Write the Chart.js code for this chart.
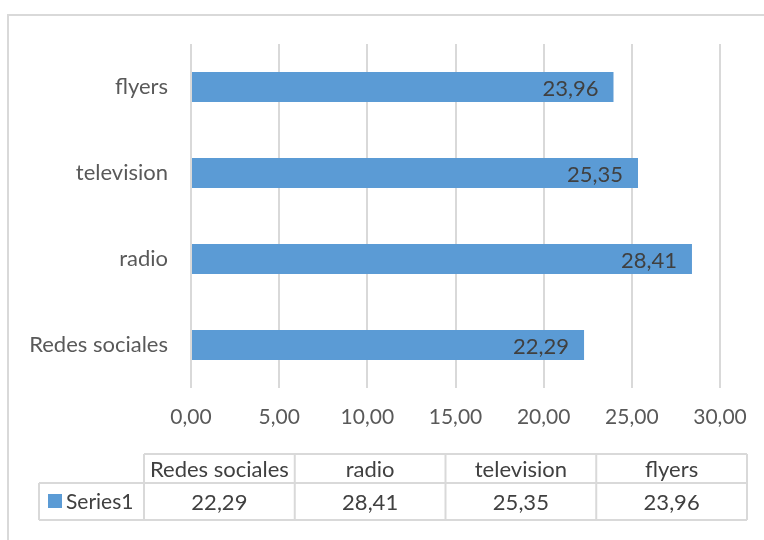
<!DOCTYPE html>
<html lang="es">
<head>
  <meta charset="UTF-8">
  <title>Series1</title>
  <script src="https://cdn.jsdelivr.net/npm/chart.js@4.4.4/dist/chart.umd.min.js"></script>
  <style>
    html, body { margin: 0; padding: 0; background: #fff; overflow: hidden; }
    #wrap { position: relative; width: 764px; height: 540px; }
    #frame { position: absolute; left: 7px; top: 14px; width: 820px; height: 620px; border: 2px solid #d9d9d9; }
    canvas { position: absolute; left: 0; top: 0; }
  </style>
</head>
<body>
  <div id="wrap">
    <div id="frame"></div>
    <canvas id="chart" width="764" height="540"></canvas>
  </div>

  <script>
    const categories = ['Redes sociales', 'radio', 'television', 'flyers'];
    const seriesName = 'Series1';
    const values = [22.29, 28.41, 25.35, 23.96];
    const axisMin = 0, axisMax = 30, axisStep = 5;

    const FONT = 'Lato, "Open Sans", sans-serif';
    const BLUE = '#5b9bd5';
    const GRID = '#d9d9d9';
    const fmt = v => v.toFixed(2).replace('.', ',');

    // value labels at the inner end of each bar
    const barLabels = {
      id: 'barLabels',
      afterDatasetsDraw(chart) {
        const ctx = chart.ctx;
        const meta = chart.getDatasetMeta(0);
        ctx.save();
        ctx.font = '22px ' + FONT;
        ctx.fillStyle = '#404040';
        ctx.textAlign = 'right';
        ctx.textBaseline = 'middle';
        meta.data.forEach((bar, i) => {
          ctx.fillText(fmt(values[i]), bar.x - 15, bar.y + 2);
        });
        ctx.restore();
      }
    };

    // data table below the axis
    const dataTable = {
      id: 'dataTable',
      afterDraw(chart) {
        const ctx = chart.ctx;
        const left = 144, right = 747, keyLeft = 39;
        const top = 454, mid = 483, bottom = 520;
        const colW = (right - left) / categories.length;
        ctx.save();
        ctx.strokeStyle = GRID;
        ctx.lineWidth = 2;
        ctx.beginPath();
        ctx.moveTo(left, top); ctx.lineTo(right, top);
        ctx.moveTo(keyLeft, mid); ctx.lineTo(right, mid);
        ctx.moveTo(keyLeft, bottom); ctx.lineTo(right, bottom);
        ctx.moveTo(keyLeft, mid); ctx.lineTo(keyLeft, bottom);
        for (let i = 0; i <= categories.length; i++) {
          const x = left + i * colW;
          ctx.moveTo(x, top); ctx.lineTo(x, bottom);
        }
        ctx.stroke();

        ctx.font = '22px ' + FONT;
        ctx.fillStyle = '#404040';
        ctx.textAlign = 'center';
        ctx.textBaseline = 'middle';
        categories.forEach((c, i) => {
          const cx = left + (i + 0.5) * colW;
          ctx.fillText(c, cx, (top + mid) / 2 + 1);
          ctx.fillText(fmt(values[i]), cx, (mid + bottom) / 2 + 1);
        });

        // legend key + series name
        ctx.fillStyle = BLUE;
        ctx.fillRect(48, 494, 14, 14);
        ctx.fillStyle = '#404040';
        ctx.textAlign = 'left';
        ctx.font = '21px ' + FONT;
        ctx.fillText(seriesName, 66, (mid + bottom) / 2 + 1);
        ctx.restore();
      }
    };

    new Chart(document.getElementById('chart'), {
      type: 'bar',
      data: {
        labels: categories,
        datasets: [{
          label: seriesName,
          data: values,
          backgroundColor: BLUE,
          borderWidth: 0,
          categoryPercentage: 1,
          barPercentage: 0.35
        }]
      },
      options: {
        indexAxis: 'y',
        responsive: false,
        animation: false,
        events: [],
        layout: { padding: { left: 0, top: 44, right: 44, bottom: 102 } },
        plugins: {
          legend: { display: false },
          tooltip: { enabled: false }
        },
        scales: {
          x: {
            min: axisMin,
            max: axisMax,
            border: { display: false },
            grid: { color: GRID, lineWidth: 2, drawTicks: false },
            ticks: {
              stepSize: axisStep,
              padding: 17,
              color: '#595959',
              font: { family: FONT, size: 21 },
              callback: v => fmt(v)
            },
            afterFit: s => { s.height = 50; }
          },
          y: {
            reverse: true,
            border: { display: false },
            grid: { display: false, drawTicks: false },
            ticks: {
              padding: 23,
              color: '#595959',
              font: { family: FONT, size: 22 }
            },
            afterFit: s => { s.width = 191; }
          }
        }
      },
      plugins: [barLabels, dataTable]
    });
  </script>
</body>
</html>
